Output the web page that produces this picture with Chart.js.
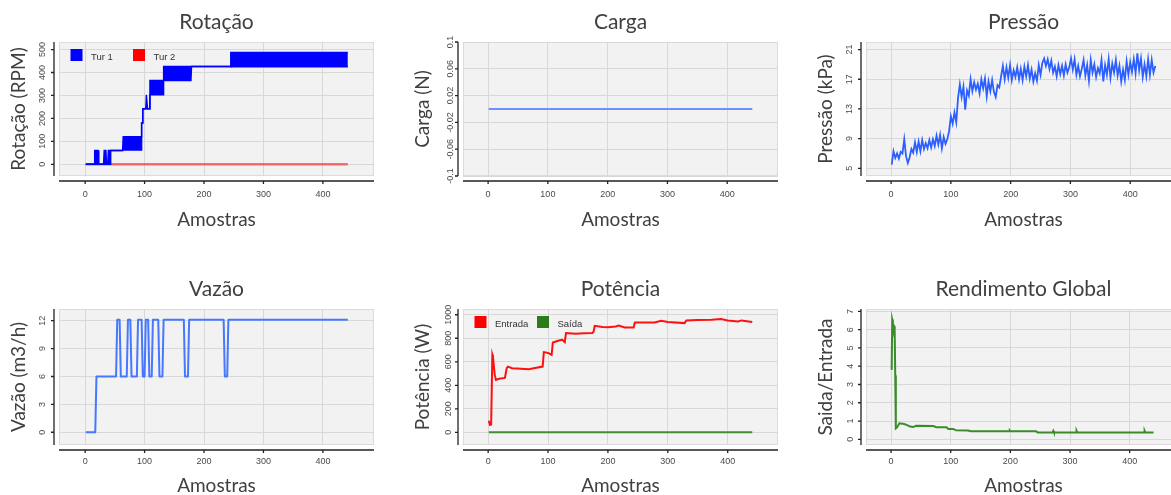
<!DOCTYPE html>
<html>
<head>
<meta charset="utf-8">
<script src="https://cdn.jsdelivr.net/npm/chart.js@4.4.0/dist/chart.umd.min.js"></script>
<style>
  html, body { margin: 0; padding: 0; background: #fff; overflow: hidden; }
  #wrap { position: relative; width: 1171px; height: 495px; overflow: hidden; }
  canvas { position: absolute; }
</style>
</head>
<body>
<div id="wrap">
  <canvas id="c1" width="435" height="235" style="left:-1px;top:0px"></canvas>
  <canvas id="c2" width="435" height="235" style="left:403px;top:0px"></canvas>
  <canvas id="c3" width="435" height="235" style="left:806px;top:0px"></canvas>
  <canvas id="c4" width="435" height="237" style="left:-1px;top:267px"></canvas>
  <canvas id="c5" width="435" height="237" style="left:403px;top:267px"></canvas>
  <canvas id="c6" width="435" height="237" style="left:806px;top:267px"></canvas>
</div>
<script>
// sample axis ticks (shared)
const xTicks = [0, 100, 200, 300, 400];

// Rotação: Tur 1 drawn as band (upper / lower edge of the fast oscillation)
const rotX  = [1, 15, 16, 22, 23, 31, 32, 35, 36, 38, 39, 42, 43, 63, 64, 94, 95, 96, 97, 102, 103, 104, 105, 108, 109, 131, 132, 178, 179, 244, 245, 442];
const rotHi = [0, 0, 60, 60, 0, 0, 60, 60, 0, 0, 60, 60, 60, 60, 120, 120, 180, 180, 242, 242, 303, 303, 242, 242, 365, 365, 426, 426, 426, 426, 487, 487];
const rotLo = [0, 0, 0, 0, 0, 0, 0, 0, 0, 0, 0, 0, 60, 60, 62, 62, 180, 180, 242, 242, 242, 242, 242, 242, 303, 303, 365, 365, 426, 426, 425, 425];
const tur2X = [1, 442];
const tur2Y = [0, 0];
const rotTicks = [0, 100, 200, 300, 400, 500];

// Carga
const cargaX = [1, 442];
const cargaY = [0, 0];
const cargaTicks = [-0.1, -0.06, -0.02, 0.02, 0.06, 0.1];

// Pressão
const presX = [1,4,7,10,13,16,19,22,25,28,31,34,37,40,43,46,49,52,55,58,61,64,67,70,73,76,79,82,85,88,91,94,97,100,103,106,109,112,115,118,121,124,127,130,133,136,139,142,145,148,151,154,157,160,163,166,169,172,175,178,181,184,187,190,193,196,199,202,205,208,211,214,217,220,223,226,229,232,235,238,241,244,247,250,253,256,259,262,265,268,271,274,277,280,283,286,289,292,295,298,301,304,307,310,313,316,319,322,325,328,331,334,337,340,343,346,349,352,355,358,361,364,367,370,373,376,379,382,385,388,391,394,397,400,403,406,409,412,415,418,421,424,427,430,433,436,439,442];
const presY = [5.5,7.3,6.4,7.0,6.3,7.2,7.0,8.9,6.6,5.7,
  6.5,7.6,7.1,8.5,7.2,8.6,7.3,8.8,7.6,8.4,
  7.7,8.8,7.8,8.9,8.0,9.4,8.2,9.5,7.7,9.2,
  8.3,8.9,10.0,12.0,11.0,12.5,11.2,14.5,16.3,14.6,
  16.0,12.9,15.5,14.8,17.0,15.4,16.6,15.6,16.4,15.1,
  17.0,15.8,17.1,14.7,16.7,15.4,16.9,15.3,14.6,16.2,
  15.9,17.4,18.8,17.0,18.6,17.2,18.9,16.9,18.2,17.3,
  18.6,17.0,18.4,16.9,18.7,17.4,18.9,17.1,18.3,16.7,
  17.8,16.8,18.9,17.6,19.2,19.8,18.8,19.7,18.4,19.5,
  17.9,18.7,17.4,18.9,17.7,18.8,17.5,19.0,17.9,18.6,
  19.8,18.3,19.7,17.6,18.8,17.4,18.4,19.6,17.5,18.9,
  16.8,19.6,17.9,19.0,17.3,18.5,17.8,19.6,16.7,18.9,
  17.6,19.7,17.2,19.1,17.9,19.6,17.5,18.8,16.7,18.3,
  16.9,19.4,17.6,19.3,18.0,19.7,17.8,20.5,18.2,19.8,
  17.3,19.0,17.4,19.7,17.6,19.6,17.9,18.8];
const presTicks = [5, 9, 13, 17, 21];

// Vazão
const vazX = [1, 17, 19, 52, 54, 58, 60, 70, 72, 76, 78, 87, 89, 95, 97, 100, 102, 106, 108, 112, 114, 123, 125, 130, 132, 166, 168, 173, 175, 233, 235, 239, 241, 442];
const vazY = [0, 0, 6, 6, 12.1, 12.1, 6, 6, 12.1, 12.1, 6, 6, 12.1, 12.1, 6, 6, 12.1, 12.1, 6, 6, 12.1, 12.1, 6, 6, 12.1, 12.1, 6, 6, 12.1, 12.1, 6, 6, 12.1, 12.1];
const vazTicks = [0, 3, 6, 9, 12];

// Potência
const potX = [1, 3, 5, 7, 8, 11, 13, 18, 28, 31, 33, 40, 55, 68, 76, 91, 93, 96, 101, 106, 108, 118, 124, 128, 130, 146, 160, 174, 176, 178, 191, 200, 213, 218, 228, 243, 245, 260, 278, 289, 300, 328, 331, 350, 373, 389, 400, 417, 423, 441];
const potEntrada = [99, 62, 66, 659, 640, 490, 446, 455, 463, 545, 559, 545, 540, 536, 545, 559, 682, 680, 673, 659, 764, 781, 787, 767, 844, 838, 842, 844, 855, 906, 895, 894, 900, 909, 892, 892, 935, 935, 935, 949, 938, 929, 952, 955, 957, 963, 952, 943, 952, 938];
const saidaX = [1, 441];
const potSaida = [0, 0];
const potTicks = [0, 200, 400, 600, 800, 1000];

// Rendimento Global
const rendX = [1, 2, 3, 4, 5, 6, 7, 8, 10, 14, 22, 26, 32, 37, 42, 71, 76, 93, 96, 104, 109, 129, 134, 198, 199, 200, 243, 246, 271, 272, 273, 310, 311, 312, 424, 425, 426, 440];
const rendY = [3.8, 6.55, 6.4, 6.0, 6.2, 6.15, 3.5, 0.6, 0.65, 0.88, 0.84, 0.79, 0.7, 0.67, 0.74, 0.73, 0.66, 0.66, 0.57, 0.57, 0.49, 0.48, 0.44, 0.44, 0.48, 0.44, 0.44, 0.38, 0.38, 0.46, 0.38, 0.38, 0.46, 0.38, 0.38, 0.46, 0.38, 0.38];
const rendTicks = [0, 1, 2, 3, 4, 5, 6, 7];

const pts = (xs, ys) => xs.map((x, i) => ({ x: x, y: ys[i] }));

// R-like panel: grey background, offset axis lines, inset legend
const rAxes = {
    id: 'rAxes',
    beforeDraw(chart) {
        const { ctx, chartArea: a } = chart;
        ctx.save();
        ctx.fillStyle = '#f2f2f2';
        ctx.fillRect(a.left, a.top, a.width, a.height);
        ctx.strokeStyle = '#dcdcdc';
        ctx.lineWidth = 1;
        ctx.strokeRect(a.left + 0.5, a.top + 0.5, a.width - 1, a.height - 1);
        ctx.restore();
    },
    afterDraw(chart, args, opts) {
        const { ctx, chartArea: a, scales } = chart;
        const x = scales.x, y = scales.y;
        ctx.save();
        ctx.strokeStyle = '#222';
        ctx.lineWidth = 1.3;
        ctx.beginPath();
        ctx.moveTo(a.left - 5, a.top);
        ctx.lineTo(a.left - 5, a.bottom);
        ctx.moveTo(a.left, a.bottom + 5);
        ctx.lineTo(a.right, a.bottom + 5);
        y.ticks.forEach(t => {
            const p = y.getPixelForValue(t.value);
            ctx.moveTo(a.left - 5, p);
            ctx.lineTo(a.left - 8, p);
        });
        x.ticks.forEach(t => {
            const p = x.getPixelForValue(t.value);
            ctx.moveTo(p, a.bottom + 5);
            ctx.lineTo(p, a.bottom + 8);
        });
        ctx.stroke();

        if (opts.legend) {
            const items = chart.data.datasets.filter(d => d.label);
            ctx.font = '9.5px "Liberation Sans", Arial';
            ctx.textBaseline = 'middle';
            ctx.textAlign = 'left';
            items.forEach((d, i) => {
                const bx = a.left + 11.5 + i * 62.5;
                const by = a.top + 7;
                ctx.fillStyle = d.legendColor || d.borderColor;
                ctx.fillRect(bx, by, 12, 12);
                ctx.fillStyle = '#333';
                ctx.fillText(d.label, bx + 20.5, by + 8.5);
            });
        }
        ctx.restore();
    }
};

function panel(id, cfg) {
    const tickFont = { family: '"Liberation Sans", Arial', size: 9 };
    return new Chart(document.getElementById(id), {
        type: 'line',
        data: { datasets: cfg.datasets },
        options: {
            responsive: false,
            animation: false,
            events: [],
            layout: { padding: 0 },
            elements: { point: { radius: 0 }, line: { tension: 0 } },
            plugins: {
                legend: { display: false },
                tooltip: { enabled: false },
                title: {
                    display: true,
                    text: cfg.title,
                    color: '#404040',
                    font: { family: 'Lato', size: 21, weight: 'normal', lineHeight: 1 },
                    padding: { top: 11.5, bottom: 9.5 }
                },
                rAxes: { legend: !!cfg.legend }
            },
            scales: {
                x: {
                    type: 'linear',
                    min: cfg.xMin,
                    max: cfg.xMax,
                    afterBuildTicks: s => { s.ticks = xTicks.map(v => ({ value: v })); },
                    afterFit: s => { s.height = 59; },
                    grid: { color: '#d8d8d8', lineWidth: 1, drawTicks: false },
                    border: { display: false },
                    ticks: { font: tickFont, color: '#4a4a4a', padding: cfg.xPad, maxRotation: 0, autoSkip: false,
                             callback: v => String(v) },
                    title: {
                        display: true, text: 'Amostras', color: '#404040',
                        font: { family: 'Lato', size: 19, lineHeight: 1 },
                        padding: { top: 0, bottom: cfg.xTitlePad }
                    }
                },
                y: {
                    type: 'linear',
                    min: cfg.yMin,
                    max: cfg.yMax,
                    afterBuildTicks: s => { s.ticks = cfg.yTicks.map(v => ({ value: v })); },
                    afterFit: s => { s.width = 60; },
                    grid: { color: '#d8d8d8', lineWidth: 1, drawTicks: false },
                    border: { display: false },
                    ticks: { font: tickFont, color: '#4a4a4a', padding: cfg.yPad, minRotation: 90, maxRotation: 90,
                             crossAlign: 'center', autoSkip: false, callback: v => String(v) },
                    title: {
                        display: true, text: cfg.yTitle, color: '#404040',
                        font: { family: 'Lato', size: 19, lineHeight: 1 },
                        padding: { top: 10.5, bottom: 0 }
                    }
                },
                y2: {
                    type: 'linear',
                    position: 'right',
                    afterFit: s => { s.width = 60; },
                    grid: { display: false },
                    border: { display: false },
                    ticks: { display: false }
                }
            }
        },
        plugins: [rAxes]
    });
}

panel('c1', {
    title: 'Rotação', yTitle: 'Rotação (RPM)', legend: true,
    xMin: -44, xMax: 486, yMin: -51, yMax: 533, yTicks: rotTicks, yPad: 8.5, xPad: 13, xTitlePad: 6,
    datasets: [
        { label: 'Tur 1', data: pts(rotX, rotHi), borderColor: '#0000ff', backgroundColor: '#0000ff', borderWidth: 1.4, fill: '+1' },
        { data: pts(rotX, rotLo), borderColor: '#0000ff', borderWidth: 1.4, fill: false },
        { label: 'Tur 2', data: pts(tur2X, tur2Y), borderColor: 'rgba(255,40,40,0.65)', legendColor: '#ff0000', borderWidth: 2.5, fill: false }
    ]
});

panel('c2', {
    title: 'Carga', yTitle: 'Carga (N)',
    xMin: -42, xMax: 485, yMin: -0.1, yMax: 0.1, yTicks: cargaTicks, yPad: 2.5, xPad: 13, xTitlePad: 6,
    datasets: [
        { label: 'Carga', data: pts(cargaX, cargaY), borderColor: '#6a93ff', borderWidth: 2, fill: false }
    ]
});

panel('c3', {
    title: 'Pressão', yTitle: 'Pressão (kPa)',
    xMin: -42, xMax: 485, yMin: 3.96, yMax: 22.02, yTicks: presTicks, yPad: 11, xPad: 13, xTitlePad: 6,
    datasets: [
        { label: 'Pressão', data: pts(presX, presY), borderColor: '#2b5fff', borderWidth: 1.8, fill: false }
    ]
});

panel('c4', {
    title: 'Vazão', yTitle: 'Vazão (m3/h)',
    xMin: -44, xMax: 486, yMin: -1.37, yMax: 13.26, yTicks: vazTicks, yPad: 11.7, xPad: 11, xTitlePad: 9,
    datasets: [
        { label: 'Vazão', data: pts(vazX, vazY), borderColor: '#4677ff', borderWidth: 2, borderJoinStyle: 'round', fill: false }
    ]
});

panel('c5', {
    title: 'Potência', yTitle: 'Potência (W)', legend: true,
    xMin: -42, xMax: 484, yMin: -108, yMax: 1049, yTicks: potTicks, yPad: 4.4, xPad: 11, xTitlePad: 9,
    datasets: [
        { label: 'Entrada', data: pts(potX, potEntrada), borderColor: '#ff1010', legendColor: '#ff0000', borderWidth: 2, fill: false },
        { label: 'Saída', data: pts(saidaX, potSaida), borderColor: '#3f8f30', legendColor: '#2d7a1a', borderWidth: 2, fill: false }
    ]
});

panel('c6', {
    title: 'Rendimento Global', yTitle: 'Saida/Entrada',
    xMin: -42, xMax: 486, yMin: -0.31, yMax: 7.13, yTicks: rendTicks, yPad: 12.5, xPad: 11, xTitlePad: 9,
    datasets: [
        { label: 'Rendimento', data: pts(rendX, rendY), borderColor: '#3a8c2a', borderWidth: 2, fill: false }
    ]
});
</script>
</body>
</html>
